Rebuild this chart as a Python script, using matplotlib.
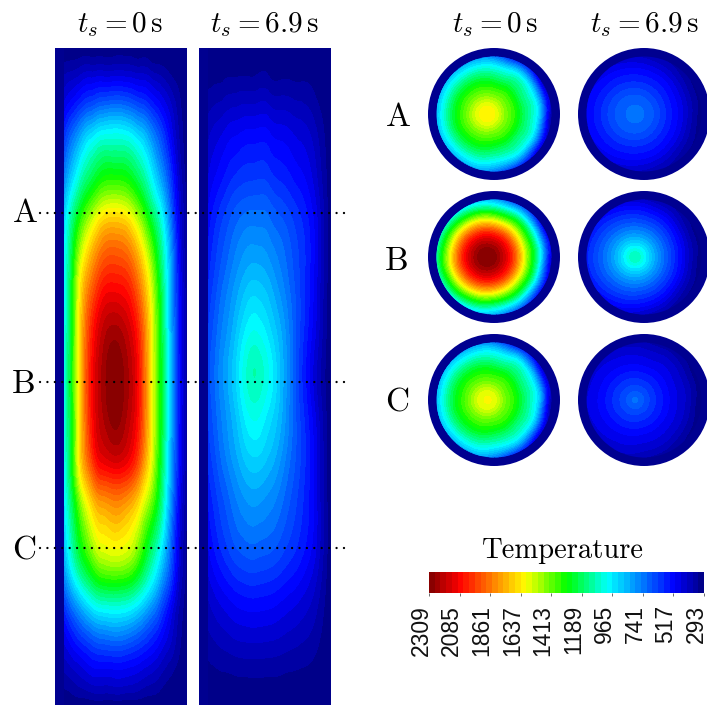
import numpy as np
import matplotlib
matplotlib.use("Agg")
import matplotlib.pyplot as plt
from matplotlib.colors import LinearSegmentedColormap, ListedColormap, BoundaryNorm
from matplotlib.cm import ScalarMappable
from matplotlib.patches import Circle
from matplotlib.transforms import ScaledTranslation
from matplotlib.tri import Triangulation, UniformTriRefiner, CubicTriInterpolator

plt.rcParams['mathtext.fontset'] = 'cm'

W, H = 707, 705

T_MIN, T_MAX = 293, 2309
cbar_ticks = [2309, 2085, 1861, 1637, 1413, 1189, 965, 741, 517, 293]

# rod, t=0: temperature read along rows (z, px below the top) and columns (x, px from the left)
rod0_x = [9, 17, 25, 35, 47, 60, 73, 85, 95, 105, 115, 125, 132]
rod0_z = [0, 17, 35, 57, 85, 127, 165, 202, 242, 282, 337, 392, 422, 452, 500, 535, 562, 592, 622, 642, 657]
rod0_T = [
    [300, 300, 300, 300, 300, 300, 300, 300, 300, 298, 296, 294, 293],
    [340, 350, 365, 375, 380, 380, 378, 365, 350, 335, 315, 300, 295],
    [400, 430, 460, 495, 510, 515, 505, 480, 450, 410, 360, 320, 295],
    [470, 530, 590, 650, 700, 720, 695, 640, 580, 510, 430, 340, 295],
    [580, 700, 800, 910, 985, 1000, 975, 890, 780, 650, 500, 360, 300],
    [740, 900, 1040, 1170, 1280, 1300, 1270, 1150, 1000, 820, 620, 400, 310],
    [880, 1100, 1280, 1450, 1600, 1640, 1590, 1420, 1220, 1020, 730, 440, 320],
    [950, 1210, 1480, 1690, 1860, 1900, 1850, 1670, 1440, 1160, 830, 470, 330],
    [970, 1270, 1620, 1870, 2050, 2087, 2040, 1850, 1590, 1250, 860, 500, 335],
    [980, 1290, 1650, 1980, 2180, 2240, 2170, 1970, 1650, 1290, 880, 510, 340],
    [1000, 1300, 1660, 2020, 2230, 2309, 2230, 2020, 1660, 1300, 900, 520, 340],
    [980, 1290, 1650, 1980, 2180, 2240, 2170, 1970, 1650, 1290, 880, 510, 340],
    [970, 1270, 1620, 1870, 2050, 2087, 2040, 1850, 1590, 1250, 860, 500, 335],
    [940, 1190, 1450, 1670, 1810, 1850, 1800, 1650, 1460, 1190, 820, 470, 330],
    [860, 1080, 1260, 1430, 1570, 1600, 1560, 1400, 1200, 1000, 720, 430, 320],
    [740, 900, 1040, 1170, 1280, 1300, 1270, 1150, 1000, 820, 620, 400, 310],
    [580, 700, 800, 910, 985, 1000, 975, 890, 780, 650, 500, 360, 300],
    [470, 530, 590, 650, 700, 720, 695, 640, 580, 510, 430, 340, 295],
    [380, 410, 440, 480, 495, 500, 490, 465, 435, 395, 350, 315, 295],
    [330, 345, 365, 385, 395, 400, 392, 375, 355, 335, 315, 300, 293],
    [300, 300, 300, 300, 300, 300, 300, 300, 298, 296, 295, 294, 293],
]

# rod, t=6.9
rod1_x = [9, 17, 25, 35, 47, 57, 70, 85, 100, 115, 125, 132]
rod1_z = [0, 32, 85, 127, 165, 212, 252, 292, 325, 362, 402, 452, 500, 542, 572, 602, 632, 657]
rod1_T = [
    [296, 296, 296, 296, 296, 296, 296, 295, 295, 294, 293, 293],
    [320, 327, 333, 340, 344, 345, 343, 337, 330, 318, 304, 295],
    [405, 438, 464, 493, 512, 515, 506, 480, 447, 396, 335, 297],
    [455, 503, 541, 583, 610, 615, 602, 564, 516, 442, 353, 298],
    [508, 571, 622, 677, 714, 720, 703, 652, 588, 490, 372, 299],
    [557, 627, 686, 755, 817, 830, 798, 723, 627, 504, 370, 300],
    [600, 670, 740, 816, 905, 930, 879, 771, 638, 492, 365, 298],
    [633, 707, 780, 868, 993, 1030, 957, 817, 633, 471, 354, 295],
    [653, 724, 804, 899, 1042, 1090, 1003, 828, 621, 446, 343, 295],
    [633, 707, 780, 868, 993, 1030, 957, 817, 633, 471, 354, 295],
    [605, 676, 747, 824, 914, 940, 888, 779, 643, 495, 366, 298],
    [547, 614, 671, 738, 797, 810, 779, 707, 614, 496, 367, 300],
    [498, 558, 607, 660, 694, 700, 684, 635, 574, 481, 368, 299],
    [432, 474, 507, 542, 566, 570, 559, 526, 485, 421, 345, 298],
    [388, 415, 437, 462, 477, 480, 473, 450, 423, 380, 328, 297],
    [347, 363, 376, 390, 398, 400, 396, 383, 367, 343, 314, 296],
    [312, 318, 322, 326, 329, 330, 329, 324, 319, 311, 301, 295],
    [296, 296, 296, 296, 296, 296, 295, 295, 294, 293, 293, 293],
]

# cross sections: distance from the hot spot and direction, mirrored about the horizontal
sec_r = [0, 10, 20, 30, 40, 50, 60, 72]
sec_dir = [0, 30, 60, 90, 120, 150, 180]

secA0 = [
    [1625, 1570, 1430, 1300, 1140, 970, 530, 300],
    [1625, 1570, 1430, 1300, 1140, 965, 560, 320],
    [1625, 1570, 1430, 1300, 1140, 960, 630, 360],
    [1625, 1570, 1430, 1300, 1140, 955, 720, 440],
    [1625, 1570, 1430, 1300, 1130, 930, 720, 500],
    [1625, 1570, 1430, 1295, 1110, 900, 700, 500],
    [1625, 1570, 1430, 1290, 1100, 880, 700, 500],
]
secB0 = [
    [2309, 2260, 2110, 1840, 1470, 1120, 620, 320],
    [2309, 2260, 2110, 1840, 1470, 1115, 650, 340],
    [2309, 2260, 2110, 1840, 1470, 1110, 720, 400],
    [2309, 2260, 2110, 1840, 1470, 1100, 800, 500],
    [2309, 2260, 2110, 1840, 1470, 1110, 800, 550],
    [2309, 2260, 2110, 1840, 1470, 1115, 800, 600],
    [2309, 2260, 2110, 1840, 1470, 1120, 800, 600],
]
secC0 = [
    [1600, 1545, 1410, 1290, 1130, 950, 520, 300],
    [1600, 1545, 1410, 1290, 1130, 950, 550, 320],
    [1600, 1545, 1410, 1290, 1130, 950, 620, 360],
    [1600, 1545, 1410, 1290, 1130, 950, 720, 440],
    [1600, 1545, 1410, 1290, 1125, 925, 720, 500],
    [1600, 1545, 1410, 1285, 1110, 900, 700, 500],
    [1600, 1545, 1410, 1280, 1100, 880, 700, 500],
]
secA1 = [
    [720, 710, 660, 590, 520, 440, 350, 300],
    [720, 710, 660, 592, 525, 445, 360, 310],
    [720, 710, 662, 597, 535, 460, 385, 335],
    [720, 710, 665, 600, 540, 470, 400, 350],
    [720, 710, 667, 604, 545, 482, 420, 370],
    [720, 710, 669, 608, 548, 495, 440, 390],
    [720, 710, 670, 610, 550, 500, 450, 400],
]
secB1 = [
    [1090, 980, 830, 700, 580, 460, 350, 300],
    [1090, 980, 831, 703, 587, 472, 362, 312],
    [1090, 980, 833, 710, 600, 495, 390, 335],
    [1090, 980, 835, 715, 610, 510, 410, 350],
    [1090, 980, 837, 720, 622, 530, 445, 390],
    [1090, 980, 839, 727, 634, 550, 480, 430],
    [1090, 980, 840, 730, 640, 560, 500, 450],
]
secC1 = [
    [720, 660, 590, 530, 470, 420, 340, 300],
    [720, 660, 591, 531, 473, 423, 350, 312],
    [720, 660, 593, 533, 477, 430, 365, 325],
    [720, 660, 595, 535, 480, 435, 375, 335],
    [720, 660, 597, 537, 484, 441, 387, 343],
    [720, 660, 599, 539, 488, 447, 396, 348],
    [720, 660, 600, 540, 490, 450, 400, 350],
]

band_count = 48
wall_color = '#000090'
base = LinearSegmentedColormap.from_list('paraview_jet', [
    (0.0, '#000080'), (0.11, '#0000ff'), (0.35, '#00ffff'), (0.5, '#00ff00'),
    (0.65, '#ffff00'), (0.89, '#ff0000'), (1.0, '#800000')])
levels = np.linspace(T_MIN, T_MAX, band_count + 1)
cmap = ListedColormap(base((np.arange(band_count) + 0.5) / band_count))
norm = BoundaryNorm(levels, band_count)


def panel(x0, y0, w, h):
    return fig.add_axes([x0 / W, 1 - (y0 + h) / H, w / W, h / H])


def smooth_bands(ax, x, y, T, clip=None):
    tri = Triangulation(x, y)
    fine, T_fine = UniformTriRefiner(tri).refine_field(
        T, triinterpolator=CubicTriInterpolator(tri, T, kind='min_E'), subdiv=3)
    cs = ax.tricontourf(fine, T_fine, levels=levels, cmap=cmap, norm=norm, extend='both')
    if clip is not None:
        cs.set_clip_path(clip)
    return cs


def draw_rod(x0, xs, zs, T):
    ax = panel(x0, 48, 132, 657)
    ax.set_facecolor(wall_color)
    X, Z = np.meshgrid(xs, zs)
    smooth_bands(ax, X.ravel(), Z.ravel(), np.array(T, float).ravel())
    ax.set_xlim(0, 132)
    ax.set_ylim(657, 0)
    ax.set_xticks([])
    ax.set_yticks([])
    for s in ax.spines.values():
        s.set_visible(False)


def draw_section(x0, y0, T, hot_dx):
    ax = panel(x0, y0, 132, 132)
    ax.set_xlim(-66, 66)
    ax.set_ylim(66, -66)
    ax.axis('off')
    ax.add_patch(Circle((0, 0), 66, fc=wall_color, ec='none'))
    inner = Circle((0, 0), 57.5, fc='none', ec='none')
    ax.add_patch(inner)
    # nodes on rays from the hot spot, lower half mirrors the upper half
    xs, ys, vals = [hot_dx], [0.0], [T[0][0]]
    for row, d in zip(T, sec_dir):
        a = np.radians(d)
        for r, v in zip(sec_r[1:], row[1:]):
            xs.append(hot_dx + r * np.cos(a))
            ys.append(-r * np.sin(a))
            vals.append(v)
            if 0 < d < 180:
                xs.append(hot_dx + r * np.cos(a))
                ys.append(r * np.sin(a))
                vals.append(v)
    smooth_bands(ax, np.array(xs), np.array(ys), np.array(vals, float), clip=inner)


fig = plt.figure(figsize=(W / 100, H / 100), dpi=100)

draw_rod(55, rod0_x, rod0_z, rod0_T)
draw_rod(199, rod1_x, rod1_z, rod1_T)

for y0, T0, T1 in [(48, secA0, secA1), (191, secB0, secB1), (334, secC0, secC1)]:
    draw_section(428, y0, T0, -7)
    draw_section(578, y0, T1, -9)

# colorbar, hot end on the left
cax = panel(429, 572, 275, 21)
cb = fig.colorbar(ScalarMappable(norm=norm, cmap=cmap), cax=cax, orientation='horizontal',
                  spacing='proportional', ticks=cbar_ticks)
cax.invert_xaxis()
cb.outline.set_visible(False)
cax.minorticks_off()
cax.tick_params(axis='x', length=2.5, width=0.6, pad=6, color='#555555')
cax.set_xticklabels([str(t) for t in cbar_ticks], rotation=90, fontsize=16.5,
                    family='Liberation Sans', color='#111111')
# labels sit a little left of their ticks
shift = ScaledTranslation(-8 / 100, 0, fig.dpi_scale_trans)
for lab in cax.get_xticklabels():
    lab.set_transform(lab.get_transform() + shift)

# labels and dotted section lines
over = fig.add_axes([0, 0, 1, 1], facecolor='none')
over.set_xlim(0, W)
over.set_ylim(H, 0)
over.axis('off')

for y in [213, 382, 548]:
    over.plot([40, 348], [y, y], color='black', lw=1.7, ls=(0, (0.01, 3.13)),
              dash_capstyle='round')

for x, label in [(120, r'$t_s = 0\,\mathrm{s}$'), (264, r'$t_s = 6.9\,\mathrm{s}$'),
                 (495, r'$t_s = 0\,\mathrm{s}$'), (644, r'$t_s = 6.9\,\mathrm{s}$')]:
    over.text(x, 32, label, fontsize=21, ha='center', va='baseline')

for x, y, label in [(25, 222, 'A'), (24, 393, 'B'), (24, 559, 'C'),
                    (398, 126, 'A'), (397, 270, 'B'), (397, 412, 'C')]:
    over.text(x, y, label, fontsize=24, family='cmr10', ha='center', va='baseline')

over.text(563, 558, 'Temperature', fontsize=20.6, family='cmr10', ha='center', va='baseline')

fig.savefig('out.png', dpi=100)
